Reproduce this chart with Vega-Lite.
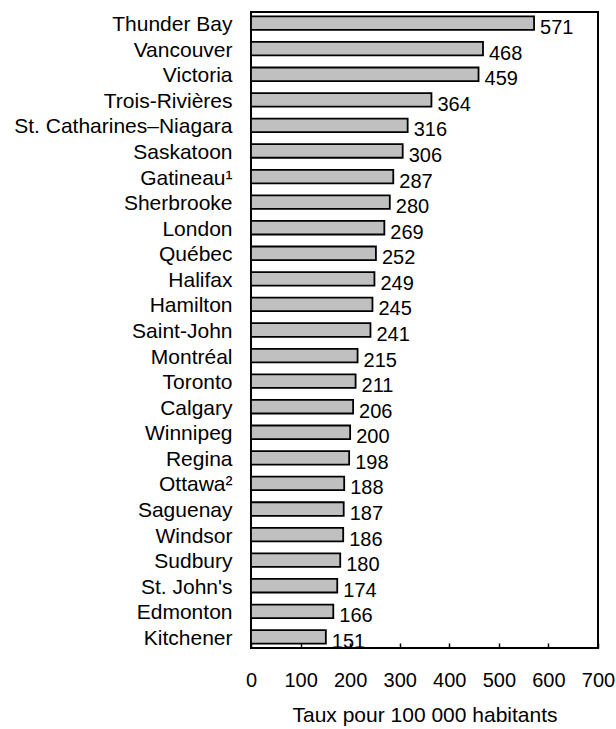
{
  "$schema": "https://vega.github.io/schema/vega-lite/v6.json",
  "autosize": "none",
  "width": 347,
  "height": 636,
  "padding": {"left": 251, "top": 12, "right": 18, "bottom": 81},
  "background": "white",
  "config": {
    "font": "Liberation Sans",
    "view": {"stroke": "black", "strokeWidth": 2},
    "axis": {"grid": false, "labelColor": "black", "titleColor": "black", "labelFont": "Liberation Sans", "titleFont": "Liberation Sans"}
  },
  "data": {
    "values": [
      {"city": "Thunder Bay", "rate": 571},
      {"city": "Vancouver", "rate": 468},
      {"city": "Victoria", "rate": 459},
      {"city": "Trois-Rivières", "rate": 364},
      {"city": "St. Catharines–Niagara", "rate": 316},
      {"city": "Saskatoon", "rate": 306},
      {"city": "Gatineau¹", "rate": 287},
      {"city": "Sherbrooke", "rate": 280},
      {"city": "London", "rate": 269},
      {"city": "Québec", "rate": 252},
      {"city": "Halifax", "rate": 249},
      {"city": "Hamilton", "rate": 245},
      {"city": "Saint-John", "rate": 241},
      {"city": "Montréal", "rate": 215},
      {"city": "Toronto", "rate": 211},
      {"city": "Calgary", "rate": 206},
      {"city": "Winnipeg", "rate": 200},
      {"city": "Regina", "rate": 198},
      {"city": "Ottawa²", "rate": 188},
      {"city": "Saguenay", "rate": 187},
      {"city": "Windsor", "rate": 186},
      {"city": "Sudbury", "rate": 180},
      {"city": "St. John's", "rate": 174},
      {"city": "Edmonton", "rate": 166},
      {"city": "Kitchener", "rate": 151}
    ]
  },
  "encoding": {
    "y": {
      "field": "city", "type": "nominal", "sort": null,
      "scale": {"paddingInner": 0.47, "paddingOuter": 0.17},
      "axis": {"title": null, "ticks": false, "domain": false, "labelFontSize": 21, "labelPadding": 19, "labelOffset": 2, "labelLimit": 300}
    },
    "x": {
      "field": "rate", "type": "quantitative",
      "scale": {"domain": [0, 700], "nice": false},
      "axis": {"values": [0, 100, 200, 300, 400, 500, 600, 700], "title": "Taux pour 100 000 habitants", "titleFontSize": 21, "titleFontWeight": "normal", "titlePadding": 14, "labelFontSize": 20, "labelPadding": 27, "tickSize": -5, "tickColor": "black", "tickWidth": 1.5, "domain": false, "labelFlush": false}
    }
  },
  "layer": [
    {"mark": {"type": "bar", "fill": "#c0c0c0", "stroke": "black", "strokeWidth": 1.8}},
    {"mark": {"type": "text", "align": "left", "baseline": "middle", "dx": 6, "dy": 5, "fontSize": 20, "color": "black"}, "encoding": {"text": {"field": "rate", "type": "quantitative"}}}
  ]
}
